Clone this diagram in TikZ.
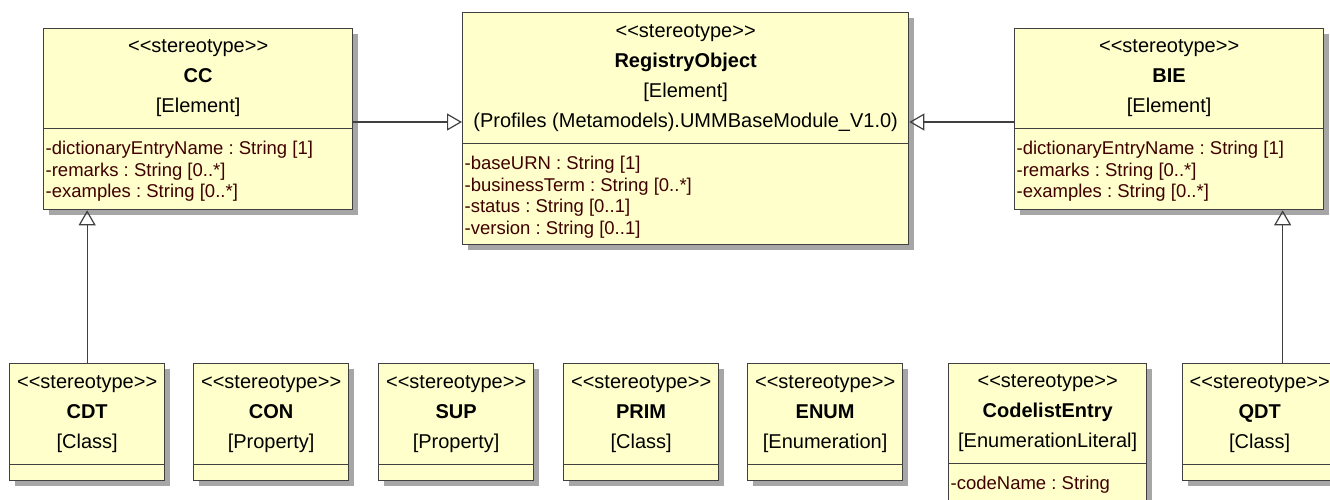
\documentclass[tikz,border=0pt]{standalone}
\usepackage{fontspec}
\setmainfont{Liberation Sans}
\usepackage{xcolor}
\usetikzlibrary{arrows.meta,positioning,shadows}

\definecolor{classfill}{RGB}{255,255,204}
\definecolor{classline}{RGB}{64,64,64}
\definecolor{attrtext}{RGB}{64,0,0}
\newcommand{\stereo}{<{}<stereotype>{}>}
\frenchspacing

\begin{document}
\begin{tikzpicture}[x=1pt,y=-1pt,
 classbox/.style={draw=classline,fill=classfill,line width=1.3pt,
   inner sep=0pt,anchor=north west,
   drop shadow={shadow xshift=5pt,shadow yshift=-5pt,fill=black!35,opacity=1}},
 header/.style={inner sep=0pt,anchor=north,align=center,
   font=\fontsize{20}{30}\selectfont},
 attrs/.style={inner xsep=2pt,inner ysep=12.5pt,anchor=north west,align=left,
   text=attrtext,font=\fontsize{18.5}{21.6}\selectfont},
 divider/.style={draw=classline,line width=1.3pt},
 generalize/.style={-{Triangle[open,length=15pt,width=17pt]},
   draw=classline,line width=1.2pt}
]
\useasboundingbox (0,0) rectangle (1330,499);
\clip (0,0) rectangle (1330,499);

% upper row
\node[classbox,minimum width=309pt,minimum height=181pt] (cc) at (43,28) {};
\node[header,minimum width=309pt,minimum height=100pt] (ccHead) at (cc.north)
 {\stereo\\\textbf{CC}\\{[Element]}};
\draw[divider] (ccHead.south west) -- (ccHead.south east);
\node[attrs] (ccAttrs) at (ccHead.south west)
 {-dictionaryEntryName : String [1]\\-remarks : String [0..*]\\-examples : String [0..*]};

\node[classbox,minimum width=446pt,minimum height=232pt] (registry) at (462,12) {};
\node[header,minimum width=446pt,minimum height=131pt] (registryHead) at (registry.north)
 {\stereo\\\textbf{RegistryObject}\\{[Element]}\\(Profiles (Metamodels).UMMBaseModule\_V1.0)};
\draw[divider] (registryHead.south west) -- (registryHead.south east);
\node[attrs] (registryAttrs) at (registryHead.south west)
 {-baseURN : String [1]\\-businessTerm : String [0..*]\\-status : String [0..1]\\-version : String [0..1]};

\node[classbox,minimum width=309pt,minimum height=181pt] (bie) at (1014,28) {};
\node[header,minimum width=309pt,minimum height=100pt] (bieHead) at (bie.north)
 {\stereo\\\textbf{BIE}\\{[Element]}};
\draw[divider] (bieHead.south west) -- (bieHead.south east);
\node[attrs] (bieAttrs) at (bieHead.south west)
 {-dictionaryEntryName : String [1]\\-remarks : String [0..*]\\-examples : String [0..*]};

% lower row
\node[classbox,minimum width=155pt,minimum height=117pt] (cdt) at (9,363) {};
\node[header,minimum width=155pt,minimum height=101pt] (cdtHead) at (cdt.north)
 {\stereo\\\textbf{CDT}\\{[Class]}};
\draw[divider] (cdtHead.south west) -- (cdtHead.south east);

\node[classbox,minimum width=155pt,minimum height=117pt] (con) at (193,363) {};
\node[header,minimum width=155pt,minimum height=101pt] (conHead) at (con.north)
 {\stereo\\\textbf{CON}\\{[Property]}};
\draw[divider] (conHead.south west) -- (conHead.south east);

\node[classbox,minimum width=155pt,minimum height=117pt] (sup) at (378,363) {};
\node[header,minimum width=155pt,minimum height=101pt] (supHead) at (sup.north)
 {\stereo\\\textbf{SUP}\\{[Property]}};
\draw[divider] (supHead.south west) -- (supHead.south east);

\node[classbox,minimum width=155pt,minimum height=117pt] (prim) at (563,363) {};
\node[header,minimum width=155pt,minimum height=101pt] (primHead) at (prim.north)
 {\stereo\\\textbf{PRIM}\\{[Class]}};
\draw[divider] (primHead.south west) -- (primHead.south east);

\node[classbox,minimum width=155pt,minimum height=117pt] (enum) at (747,363) {};
\node[header,minimum width=155pt,minimum height=101pt] (enumHead) at (enum.north)
 {\stereo\\\textbf{ENUM}\\{[Enumeration]}};
\draw[divider] (enumHead.south west) -- (enumHead.south east);

\node[classbox,minimum width=198pt,minimum height=160pt] (codelist) at (948,363) {};
\node[header,minimum width=198pt,minimum height=100pt] (codelistHead) at (codelist.north)
 {\stereo\\\textbf{CodelistEntry}\\{[EnumerationLiteral]}};
\draw[divider] (codelistHead.south west) -- (codelistHead.south east);
\node[attrs] (codelistAttrs) at (codelistHead.south west) {-codeName : String};

\node[classbox,minimum width=200pt,minimum height=117pt] (qdt) at (1182,363) {};
\node[header,minimum width=155pt,minimum height=101pt,anchor=north west] (qdtHead) at (qdt.north west)
 {\stereo\\\textbf{QDT}\\{[Class]}};
\draw[divider] (qdtHead.south west) -- (qdt.east |- qdtHead.south);

% generalizations
\coordinate (link) at (0,122);
\draw[generalize] (cc.east |- link) -- (registry.west |- link);
\draw[generalize] (bie.west |- link) -- (registry.east |- link);
\draw[generalize] (cdt.north) -- (cdt.north |- cc.south);
\draw[generalize] (qdt.north) -- (qdt.north |- bie.south);
\end{tikzpicture}
\end{document}
